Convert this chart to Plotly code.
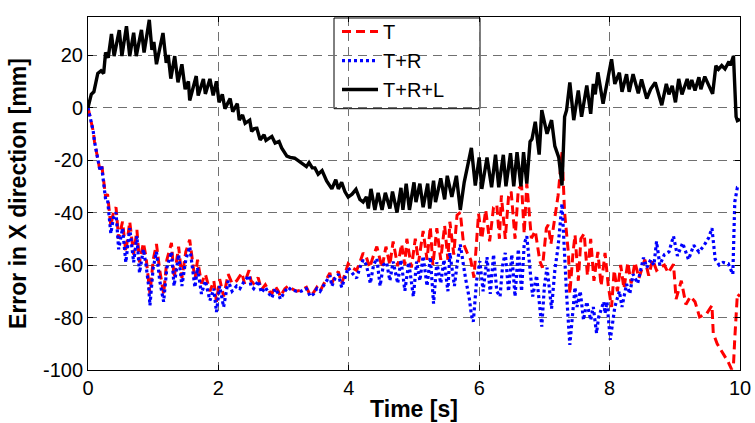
import plotly.graph_objects as go

# ---------------- data ----------------
t_T = [0.00, 0.05, 0.08, 0.10, 0.13, 0.15, 0.18, 0.21, 0.23, 0.25, 0.27, 0.30, 0.35, 0.39, 0.43, 0.47,
       0.53, 0.58, 0.64, 0.70, 0.75, 0.79, 0.85, 0.89, 0.93, 0.95, 1.00, 1.05, 1.10, 1.16, 1.21, 1.28,
       1.32, 1.39, 1.44, 1.50, 1.56, 1.64, 1.68, 1.74, 1.80, 1.87, 1.93, 1.97, 2.02, 2.08, 2.15, 2.21,
       2.28, 2.36, 2.40, 2.47, 2.50, 2.54, 2.61, 2.66, 2.72, 2.78, 2.82, 2.87, 2.92, 2.95, 3.02, 3.07,
       3.12, 3.20, 3.27, 3.35, 3.41, 3.46, 3.51, 3.56, 3.61, 3.66, 3.71, 3.74, 3.79, 3.84, 3.89, 3.94,
       3.99, 4.05, 4.12, 4.17, 4.22, 4.27, 4.32, 4.37, 4.43, 4.51, 4.57, 4.63, 4.68, 4.75, 4.81, 4.86,
       4.89, 4.96, 5.02, 5.07, 5.14, 5.20, 5.25, 5.29, 5.35, 5.41, 5.47, 5.52, 5.55, 5.61, 5.66, 5.71,
       5.76, 5.81, 5.87, 5.92, 5.99, 6.04, 6.10, 6.16, 6.22, 6.27, 6.31, 6.34, 6.40, 6.45, 6.49, 6.55,
       6.60, 6.65, 6.69, 6.73, 6.80, 6.86, 6.93, 6.97, 7.03, 7.06, 7.10, 7.16, 7.21, 7.27, 7.31, 7.37,
       7.39, 7.44, 7.47, 7.52, 7.56, 7.61, 7.66, 7.71, 7.76, 7.82, 7.87, 7.93, 7.98, 8.03, 8.07, 8.12,
       8.17, 8.22, 8.28, 8.33, 8.39, 8.45, 8.54, 8.60, 8.66, 8.72, 8.77, 8.84, 8.90, 8.98, 9.02, 9.10,
       9.17, 9.24, 9.31, 9.38, 9.49, 9.57, 9.59, 9.65, 9.74, 9.82, 9.87, 9.90, 9.92, 9.96, 10.00]
y_T = [0, -5, -9, -13, -17, -19, -23.5, -21.6, -26.5, -31, -34, -33, -45, -40, -38, -50,
       -43.5, -55, -43.5, -56, -46.6, -59, -51.6, -57, -66, -71, -58, -52, -62, -71, -58, -51.6,
       -65, -53, -65, -55, -50.4, -65.5, -58, -67, -63.5, -70, -66, -74, -65.4, -72, -63.5, -67,
       -66, -63, -67, -62, -66, -67, -64.8, -69.5, -67.5, -70, -71, -68, -70, -72, -69, -68,
       -69, -70, -69.5, -68.5, -71.6, -70.5, -68.5, -70, -67.5, -65.4, -63, -67, -64, -62.5, -67, -63.5,
       -59.5, -61, -62, -59, -55.4, -57, -61, -57, -53, -61, -53, -60, -51, -60.5, -52, -60,
       -50, -61, -50, -59, -47, -58, -45.4, -60, -46, -58, -45, -58, -43.5, -56, -41, -40,
       -52, -55, -58, -64.8, -40.4, -50, -39, -51, -38, -37, -50, -33.5, -50, -34, -32, -50,
       -31, -29.7, -48, -29, -49.8, -47, -58.5, -61, -46, -44.7, -52, -42, -33.5, -17, -40, -56,
       -71, -55, -48.5, -66, -50, -48, -64, -50, -66, -55, -68, -55.4, -68, -76, -62, -70,
       -60, -69, -59, -67, -59, -65, -57.9, -64, -58, -62, -61, -60, -63, -59.7, -73, -66,
       -75, -72, -74, -79.8, -78.5, -75.4, -86, -90, -93.5, -97, -99.7, -98, -88, -71, -72]

t_TR = [0.00, 0.05, 0.08, 0.10, 0.13, 0.15, 0.18, 0.21, 0.23, 0.25, 0.27, 0.30, 0.35, 0.39, 0.43, 0.47,
        0.53, 0.58, 0.64, 0.70, 0.75, 0.79, 0.85, 0.89, 0.93, 0.95, 1.00, 1.05, 1.10, 1.16, 1.21, 1.28,
        1.32, 1.39, 1.44, 1.50, 1.56, 1.64, 1.68, 1.74, 1.80, 1.87, 1.93, 1.97, 2.02, 2.08, 2.15, 2.21,
        2.28, 2.33, 2.40, 2.47, 2.50, 2.54, 2.61, 2.66, 2.72, 2.78, 2.82, 2.87, 2.92, 2.95, 3.02, 3.07,
        3.12, 3.20, 3.27, 3.35, 3.41, 3.46, 3.51, 3.56, 3.61, 3.66, 3.71, 3.74, 3.79, 3.84, 3.89, 3.94,
        3.99, 4.05, 4.12, 4.17, 4.22, 4.27, 4.33, 4.38, 4.43, 4.48, 4.53, 4.58, 4.63, 4.68, 4.75, 4.80,
        4.86, 4.92, 4.99, 5.04, 5.09, 5.14, 5.20, 5.25, 5.30, 5.35, 5.41, 5.46, 5.52, 5.55, 5.62, 5.67,
        5.71, 5.79, 5.85, 5.88, 5.91, 5.96, 6.01, 6.06, 6.12, 6.17, 6.22, 6.27, 6.32, 6.36, 6.40, 6.45,
        6.50, 6.55, 6.60, 6.65, 6.69, 6.73, 6.78, 6.82, 6.88, 6.96, 7.00, 7.04, 7.11, 7.16, 7.21, 7.27,
        7.34, 7.39, 7.47, 7.50, 7.55, 7.60, 7.65, 7.71, 7.75, 7.80, 7.83, 7.91, 7.93, 7.96, 8.01, 8.08,
        8.15, 8.19, 8.26, 8.31, 8.36, 8.43, 8.52, 8.57, 8.63, 8.68, 8.72, 8.77, 8.84, 8.91, 8.98, 9.04,
        9.12, 9.21, 9.29, 9.37, 9.45, 9.52, 9.57, 9.62, 9.68, 9.74, 9.82, 9.89, 9.92, 9.96, 10.00]
y_TR = [0, -5, -9, -13, -17, -19, -23.5, -22.5, -27, -31, -35, -35, -48, -42, -40, -54,
        -46, -59, -46, -59, -49, -63, -54, -60, -68, -75.4, -61, -55, -66, -74, -61, -55,
        -68, -56, -68, -58, -53, -68.5, -61, -71, -66, -73.5, -69, -77.9, -68, -76, -66, -70,
        -68, -69, -66, -64, -68, -69, -66, -70.5, -68.5, -71, -72.5, -69, -71, -73, -70, -68.5,
        -69.5, -70, -70, -69, -72, -71, -69, -70, -68, -66, -64, -68, -65, -63.5, -68.5, -65,
        -61, -63, -65, -61, -58, -60, -67, -60, -57.5, -68, -60, -59, -66, -58.7, -67, -58,
        -69.8, -59, -72, -58.7, -66, -56.6, -68, -57, -74.7, -59, -67, -58, -70, -55.4, -68, -58,
        -52.2, -65, -73, -79, -81.6, -66, -58.5, -70, -57, -71, -56, -70, -72, -60, -55.4, -70,
        -56, -72, -54, -70, -52, -49, -62, -72, -64, -83.5, -68, -61, -76.6, -62, -53, -36.6,
        -71, -90.4, -68.5, -76, -70, -81, -74, -81, -76, -86, -80, -74, -78.5, -74, -88.5, -76,
        -70, -76, -67.2, -71, -63.5, -67, -57.2, -61, -58, -60, -51, -60, -56, -55, -49, -56.5,
        -51.6, -57.9, -52.5, -55, -52.5, -49.6, -46, -57.9, -60, -59, -59.5, -63.5, -36, -30.4, -30]

t_TRL = [0.00, 0.05, 0.09, 0.15, 0.20, 0.24, 0.27, 0.31, 0.36, 0.40, 0.48, 0.52, 0.59, 0.64, 0.70, 0.74,
         0.82, 0.86, 0.94, 0.98, 1.01, 1.05, 1.15, 1.20, 1.23, 1.27, 1.33, 1.38, 1.44, 1.49, 1.54, 1.56,
         1.66, 1.69, 1.77, 1.80, 1.87, 1.92, 1.97, 2.01, 2.06, 2.10, 2.18, 2.22, 2.29, 2.32, 2.37, 2.41,
         2.48, 2.51, 2.55, 2.59, 2.64, 2.70, 2.73, 2.82, 2.87, 2.93, 2.97, 3.05, 3.10, 3.17, 3.24, 3.30,
         3.35, 3.39, 3.44, 3.48, 3.53, 3.59, 3.66, 3.74, 3.80, 3.84, 3.89, 3.94, 3.99, 4.05, 4.11, 4.17,
         4.22, 4.27, 4.30, 4.34, 4.40, 4.45, 4.51, 4.56, 4.63, 4.67, 4.74, 4.80, 4.83, 4.88, 4.93, 5.00,
         5.03, 5.09, 5.14, 5.21, 5.24, 5.30, 5.33, 5.41, 5.47, 5.51, 5.58, 5.65, 5.68, 5.71, 5.77, 5.83,
         5.88, 5.94, 6.00, 6.04, 6.12, 6.19, 6.25, 6.30, 6.37, 6.41, 6.48, 6.53, 6.58, 6.64, 6.68, 6.73,
         6.78, 6.81, 6.86, 6.92, 6.96, 7.04, 7.11, 7.16, 7.22, 7.27, 7.31, 7.34, 7.39, 7.45, 7.52, 7.57,
         7.65, 7.71, 7.75, 7.78, 7.82, 7.90, 7.96, 8.03, 8.08, 8.15, 8.19, 8.26, 8.30, 8.36, 8.44, 8.49,
         8.57, 8.63, 8.70, 8.80, 8.87, 8.91, 8.96, 9.01, 9.06, 9.11, 9.19, 9.22, 9.26, 9.31, 9.37, 9.40,
         9.46, 9.52, 9.58, 9.63, 9.67, 9.72, 9.77, 9.83, 9.85, 9.90, 9.94, 9.96, 10.00]
y_TRL = [0, 5, 6, 13, 14, 13, 21, 19, 28, 19.6, 29.5, 19.6, 31, 19.6, 28.5, 19.6,
         29.6, 21, 33.4, 22, 25, 16.5, 28.4, 17, 20, 11, 19.6, 9.6, 16.5, 7, 10, 2.7,
         12, 4.6, 10.9, 5.2, 10.9, 4.6, 10, 2, 5, -0.4, 3.4, -1.6, 1.5, -4.8, -2.8, -6,
         -4.8, -9.1, -8, -7.9, -12.3, -10.4, -12.5, -11, -13.5, -12.9, -15.4, -18.5, -19, -19.3, -20.5, -21.5,
         -22.5, -21, -23, -23, -25.4, -24, -28, -31, -27.5, -31, -28.5, -32, -34.1, -33, -31.2, -35,
         -36, -34, -38.5, -31, -39, -32.5, -39, -32.5, -38.5, -32, -40, -30.6, -39, -29, -39, -28.5,
         -36, -29, -38, -29, -38.5, -27.9, -36, -27, -35, -26, -34, -26, -33, -39, -28.5, -22,
         -15.4, -29.7, -19, -31, -19, -30.4, -18, -30.4, -18, -30, -17.4, -30, -17, -30, -17, -29,
         -13, -12, -5.4, -17.9, -1, -10, -4.8, -14.7, -19, -29.7, -3.5, -1, 9.6, -4.8, 6.5, -3.5,
         8.4, -2.4, 9, 5, 13.4, 1.5, 8.6, 18.4, 9, 13.3, 6, 12.7, 6, 12.7, 5.4, 10.7,
         3.4, 7, 9.6, 0.9, 9, 5, 8.3, 2, 10.9, 5, 10.9, 7, 10.5, 6.5, 11.5, 7,
         11.8, 8.4, 5.2, 15.9, 14.6, 16, 14.7, 17.5, 16, 19.6, -3.5, -5, -4.5]

x_ticks = [0, 2, 4, 6, 8, 10]
x_ticklabels = ["0", "2", "4", "6", "8", "10"]
y_ticks = [-100, -80, -60, -40, -20, 0, 20]
y_ticklabels = ["-100", "-80", "-60", "-40", "-20", "0", "20"]
x_range = [0, 10]
y_range = [-100, 34.5]

# ---------------- figure ----------------
FONT = "Liberation Sans, Arial, Helvetica, sans-serif"
W, H = 755, 423
ML, MR, MT, MB = 88, 15, 12, 53

fig = go.Figure()
fig.add_trace(go.Scatter(x=t_T, y=y_T, mode="lines", name="T", legendgroup="g1",
                         line=dict(color="#ff0000", width=3, dash="9px,5px")))
fig.add_trace(go.Scatter(x=t_TR, y=y_TR, mode="lines", name="T+R", legendgroup="g2",
                         line=dict(color="#0000ff", width=3.2, dash="3px,3px")))
fig.add_trace(go.Scatter(x=t_TRL, y=y_TRL, mode="lines", name="T+R+L", legendgroup="g3",
                         line=dict(color="#000000", width=3.4)))

pw = W - ML - MR
ph = H - MT - MB
# legend box (pixel geometry -> paper coords)
bx0, bx1, by0, by1 = 334, 480, 13, 105
fig.add_shape(type="rect", xref="paper", yref="paper", layer="between",
              x0=(bx0 - ML) / pw, x1=(bx1 - ML) / pw,
              y0=(H - MB - by1) / ph, y1=(H - MB - by0) / ph,
              fillcolor="white", line=dict(color="black", width=1))

axis_common = dict(
    showline=True, linecolor="black", linewidth=1, mirror="ticks",
    ticks="inside", ticklen=5, tickcolor="black", tickwidth=1,
    showgrid=True, gridcolor="#707070", gridwidth=1, griddash="9px,6px",
    zeroline=False, automargin=False,
    tickfont=dict(family=FONT, size=20, color="black"),
)

fig.update_layout(
    width=W, height=H,
    margin=dict(l=ML, r=MR, t=MT, b=MB),
    paper_bgcolor="white", plot_bgcolor="white",
    font=dict(family=FONT, color="black"),
    showlegend=True,
    legend=dict(x=(bx0 + 3 - ML) / pw, y=(H - MB - by0 + 6) / ph,
                xanchor="left", yanchor="top",
                bgcolor="rgba(0,0,0,0)", borderwidth=0,
                traceorder="grouped", tracegroupgap=0,
                font=dict(family=FONT, size=20, color="black"),
                itemwidth=36),
    xaxis=dict(range=x_range, tickvals=x_ticks, ticktext=x_ticklabels,
               title=dict(text="<b>Time [s]</b>", font=dict(family=FONT, size=23), standoff=2),
               **axis_common),
    yaxis=dict(range=y_range, tickvals=y_ticks, ticktext=y_ticklabels,
               title=dict(text="<b>Error in X direction [mm]</b>", font=dict(family=FONT, size=23), standoff=9),
               **axis_common),
)

fig.write_html("out.html")
